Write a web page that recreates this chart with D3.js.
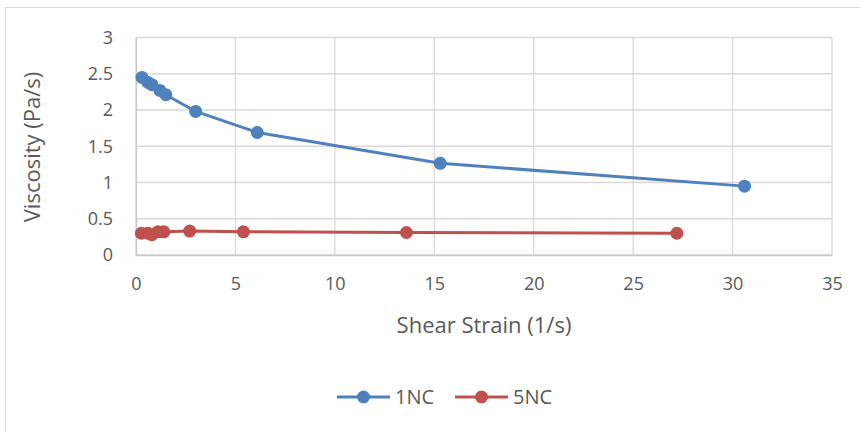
<!DOCTYPE html>
<html>
<head>
<meta charset="utf-8">
<script src="https://cdn.jsdelivr.net/npm/d3@7"></script>
<style>
  body { margin: 0; background: #fff; }
  text { font-family: "Open Sans", Lato, sans-serif; fill: #595959; }
</style>
</head>
<body>
<div id="chart"></div>
<script>
// series values
var shearNC1 = [0.3, 0.6, 0.8, 1.2, 1.5, 3.0, 6.1, 15.3, 30.6];
var viscNC1  = [2.45, 2.38, 2.35, 2.27, 2.21, 1.98, 1.69, 1.265, 0.95];
var shearNC5 = [0.27, 0.6, 0.8, 1.1, 1.4, 2.7, 5.4, 13.6, 27.2];
var viscNC5  = [0.30, 0.30, 0.28, 0.32, 0.32, 0.33, 0.32, 0.31, 0.30];
var seriesNames = ["1NC", "5NC"];
var seriesColors = ["#4F81BD", "#C0504D"];
var xTicks = [0, 5, 10, 15, 20, 25, 30, 35];
var yTicks = [0, 0.5, 1, 1.5, 2, 2.5, 3];

var W = 860, H = 432;
var svg = d3.select("#chart").append("svg").attr("width", W).attr("height", H);

// outer chart border
svg.append("rect").attr("x", 5.5).attr("y", 7.5).attr("width", W).attr("height", H)
    .attr("fill", "none").attr("stroke", "#d9d9d9");

var x = d3.scaleLinear().domain([0, 35]).range([136, 832]);
var y = d3.scaleLinear().domain([0, 3]).range([255, 37.5]);

// grid
svg.append("g").selectAll("line").data(yTicks).enter().append("line")
    .attr("x1", x(0)).attr("x2", x(35))
    .attr("y1", function(d){ return y(d); }).attr("y2", function(d){ return y(d); })
    .attr("stroke", "#d9d9d9").attr("stroke-width", 1.3);
svg.append("g").selectAll("line").data(xTicks).enter().append("line")
    .attr("y1", y(0)).attr("y2", y(3))
    .attr("x1", function(d){ return x(d); }).attr("x2", function(d){ return x(d); })
    .attr("stroke", "#d9d9d9").attr("stroke-width", 1.3);

// axes
var xAxis = svg.append("g").attr("transform", "translate(0," + y(0) + ")")
    .call(d3.axisBottom(x).tickValues(xTicks).tickSize(0).tickPadding(22));
var yAxis = svg.append("g").attr("transform", "translate(" + x(0) + ",0)")
    .call(d3.axisLeft(y).tickValues(yTicks).tickSize(0).tickPadding(23).tickFormat(d3.format("")));
[xAxis, yAxis].forEach(function(a){
    a.select(".domain").attr("stroke", "#c8c8c8").attr("stroke-width", 1.3);
    a.selectAll("text").style("font-size", "18px").attr("fill", "#595959");
});

// axis titles
svg.append("text").attr("x", 484).attr("y", 333).attr("text-anchor", "middle")
    .style("font-size", "22px").text("Shear Strain (1/s)");
svg.append("text").attr("transform", "translate(40,147) rotate(-90)").attr("text-anchor", "middle")
    .style("font-size", "22px").text("Viscosity (Pa/s)");

var data = [
    d3.zip(shearNC1, viscNC1),
    d3.zip(shearNC5, viscNC5)
];

var line = d3.line()
    .x(function(d){ return x(d[0]); })
    .y(function(d){ return y(d[1]); });

data.forEach(function(pts, i){
    var g = svg.append("g");
    g.append("path").attr("d", line(pts)).attr("fill", "none")
        .attr("stroke", seriesColors[i]).attr("stroke-width", 3)
        .attr("stroke-linejoin", "round");
    g.selectAll("circle").data(pts).enter().append("circle")
        .attr("cx", function(d){ return x(d[0]); })
        .attr("cy", function(d){ return y(d[1]); })
        .attr("r", 6.5).attr("fill", seriesColors[i]);
});

// legend
var legend = svg.append("g").attr("transform", "translate(337,397)");
seriesNames.forEach(function(name, i){
    var lg = legend.append("g").attr("transform", "translate(" + (i * 118) + ",0)");
    lg.append("line").attr("x1", 0).attr("x2", 53).attr("y1", 0).attr("y2", 0)
        .attr("stroke", seriesColors[i]).attr("stroke-width", 3);
    lg.append("circle").attr("cx", 26.5).attr("cy", 0).attr("r", 6.5).attr("fill", seriesColors[i]);
    lg.append("text").attr("x", 58).attr("y", 7).style("font-size", "20px").text(name);
});
</script>
</body>
</html>
